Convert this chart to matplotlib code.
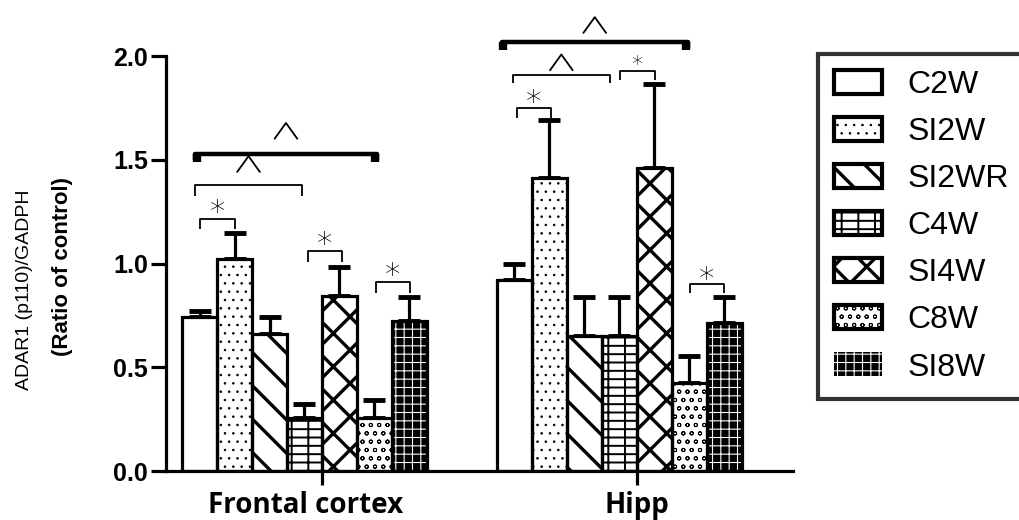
import matplotlib
matplotlib.use("Agg")
import matplotlib.pyplot as plt
from matplotlib.patches import Patch
import numpy as np

# dados
grupos = ["Frontal cortex", "Hipp"]
series = ["C2W", "SI2W", "SI2WR", "C4W", "SI4W", "C8W", "SI8W"]
frontal = [0.74, 1.02, 0.66, 0.256, 0.845, 0.256, 0.725]
frontal_err = [0.03, 0.125, 0.08, 0.065, 0.14, 0.085, 0.115]
hipp = [0.92, 1.41, 0.65, 0.65, 1.46, 0.425, 0.715]
hipp_err = [0.08, 0.28, 0.19, 0.19, 0.405, 0.13, 0.125]

# estilo de cada série (hachura, cor de fundo, cor da hachura, espessura)
hachuras = ["", "..", "\\", "--|", "x", "oo", "++"]
fundos = ["white", "white", "white", "white", "white", "white", "black"]
cor_hachura = ["black", "black", "black", "black", "black", "black", "white"]
esp_hachura = [1.0, 0.6, 2.4, 1.4, 2.4, 0.7, 0.8]

plt.rcParams['font.family'] = ['Liberation Sans', 'DejaVu Sans']
plt.rcParams['hatch.linewidth'] = 1.8


def ajusta_hachura(p, w):
    if hasattr(p, "set_hatch_linewidth"):
        p.set_hatch_linewidth(w)


fig = plt.figure(figsize=(10.19, 5.2), dpi=100)
ax = fig.add_axes([0.1629, 0.0942, 0.615, 0.798])

inicio = [0, 9]
valores = [frontal, hipp]
erros = [frontal_err, hipp_err]
lw = 2.3

for g in range(2):
    xs = inicio[g] + np.arange(7) + 0.5
    for i in range(7):
        b = ax.bar(xs[i], valores[g][i], width=1.0, color=fundos[i],
                   edgecolor=cor_hachura[i], hatch=hachuras[i], linewidth=0, zorder=2)
        ajusta_hachura(b[0], esp_hachura[i])
        ax.bar(xs[i], valores[g][i], width=1.0, fill=False,
               edgecolor="black", linewidth=lw, zorder=3)
    ax.errorbar(xs, valores[g], yerr=[np.zeros(7), erros[g]], fmt="none",
                ecolor="black", elinewidth=lw, capsize=8, capthick=3.5, zorder=1)

ax.set_xlim(-0.46, 17.46)
ax.set_ylim(0, 2.0)
ax.set_yticks([0, 0.5, 1.0, 1.5, 2.0])
ax.set_yticklabels(["0.0", "0.5", "1.0", "1.5", "2.0"], fontsize=18, fontweight="bold")
ax.set_xticks([4, 13])
ax.set_xticklabels([])
ax.tick_params(axis="y", length=11, width=lw, pad=2)
ax.tick_params(axis="x", length=10, width=lw)
for s in ["top", "right"]:
    ax.spines[s].set_visible(False)
for s in ["left", "bottom"]:
    ax.spines[s].set_linewidth(lw)

# rótulos dos grupos
for x, nome in zip([3.54, 13.0], grupos):
    ax.text(x, -0.2, nome, ha="center", va="baseline", fontsize=20, fontweight="bold",
            family=["Open Sans", "DejaVu Sans"])

fig.text(0.0245, 0.442, "ADAR1 (p110)/GADPH", rotation=90, ha="center", va="center",
         fontsize=14)
fig.text(0.061, 0.488, "(Ratio of control)", rotation=90, ha="center", va="center",
         fontsize=16, fontweight="bold")


# colchetes de significância
def circunflexo(xc, yc):
    meia = 0.32
    alt = 0.075
    ax.plot([xc - meia, xc, xc + meia], [yc - alt / 2, yc + alt / 2, yc - alt / 2],
            color="black", linewidth=1.3, clip_on=False)


def colchete(x0, x1, y, y_ponta, simbolo, y_txt, grosso=False, tam=22):
    largura = 3.2 if grosso else 1.3
    ax.plot([x0, x0, x1, x1], [y_ponta, y, y, y_ponta], color="black",
            linewidth=largura, clip_on=False, solid_capstyle="butt")
    if grosso:
        for xx in (x0, x1):
            ax.plot([xx + 0.05 if xx == x0 else xx - 0.05] * 2, [y_ponta - 0.01, y],
                    color="black", linewidth=6, clip_on=False, solid_capstyle="butt")
    if simbolo == "^":
        circunflexo((x0 + x1) / 2, y_txt)
    else:
        ax.text((x0 + x1) / 2, y_txt, simbolo, ha="center", va="center",
                fontsize=tam, family=["DejaVu Sans"], fontweight="light", clip_on=False)


colchete(0.37, 5.57, 1.53, 1.50, "^", 1.64, grosso=True)
colchete(0.37, 3.43, 1.378, 1.325, "^", 1.48)
colchete(0.51, 1.51, 1.214, 1.166, "*", 1.245)
colchete(3.60, 4.57, 1.06, 1.007, "*", 1.09)
colchete(5.54, 6.51, 0.913, 0.858, "*", 0.94)
colchete(9.14, 14.46, 2.067, 2.04, "^", 2.15, grosso=True)
colchete(9.46, 12.23, 1.908, 1.87, "^", 1.97)
colchete(9.57, 10.54, 1.75, 1.70, "*", 1.775)
colchete(12.51, 13.51, 1.93, 1.885, "*", 1.955, tam=16)
colchete(14.51, 15.49, 0.90, 0.858, "*", 0.925)

# legenda
alcas = []
for i in range(7):
    if fundos[i] == "black":
        p = Patch(facecolor="black", edgecolor="white", hatch=hachuras[i], linewidth=0)
    else:
        p = Patch(facecolor=fundos[i], edgecolor="black", hatch=hachuras[i], linewidth=3)
    alcas.append(p)
leg = fig.legend(alcas, series, loc="upper left", bbox_to_anchor=(0.803, 0.896),
                 fontsize=23, frameon=True, fancybox=False, handlelength=1.5,
                 handleheight=0.78, handletextpad=0.8, labelspacing=0.53,
                 borderpad=0.5, borderaxespad=0)
for p, w in zip(leg.get_patches(), esp_hachura):
    ajusta_hachura(p, w)
leg.get_frame().set_edgecolor("black")
leg.get_frame().set_linewidth(3)

fig.savefig("out.png", dpi=100)
